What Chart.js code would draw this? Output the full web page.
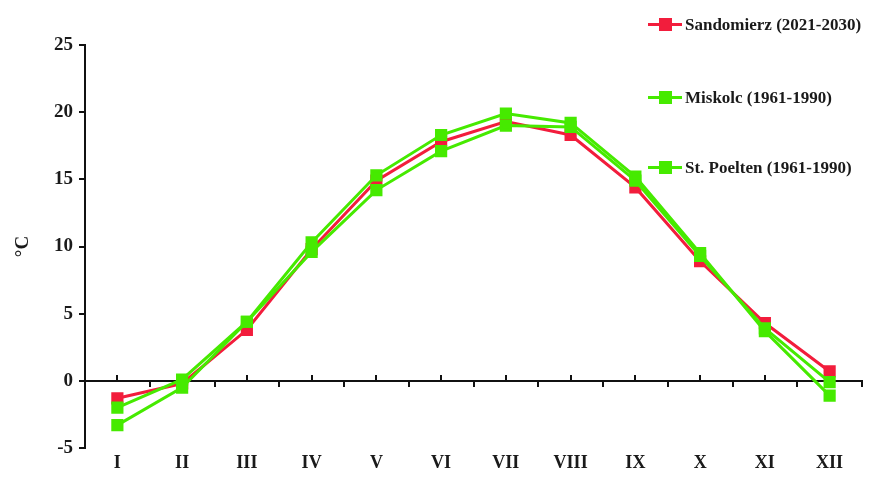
<!DOCTYPE html>
<html>
<head>
<meta charset="utf-8">
<script src="https://cdn.jsdelivr.net/npm/chart.js@4.4.0/dist/chart.umd.min.js"></script>
<style>
	html, body { margin: 0; padding: 0; background: #fff; }
	#wrap { position: relative; width: 874px; height: 486px; }
	#legend { position: absolute; left: 648px; top: 14px; font-family: "Liberation Serif", serif; font-weight: bold; font-size: 17px; color: #1a1a1a; }
	.item { position: absolute; left: 0; white-space: nowrap; height: 22px; line-height: 22px; }
	.sw { position: absolute; left: 0; top: 9px; width: 34px; height: 3px; }
	.sq { position: absolute; left: 11px; top: 4px; width: 13px; height: 13px; }
	.lbl { position: absolute; left: 37px; top: 0; }
</style>
</head>
<body>
<div id="wrap">
	<canvas id="chart" width="874" height="486"></canvas>
	<div id="legend"></div>
</div>
<script>
// months
const months = ['I', 'II', 'III', 'IV', 'V', 'VI', 'VII', 'VIII', 'IX', 'X', 'XI', 'XII'];

// mean monthly temperature, degC
const sandomierz = [-1.3, -0.2, 3.8, 9.8, 14.9, 17.8, 19.3, 18.3, 14.4, 8.9, 4.3, 0.7];
const miskolc = [-3.3, -0.5, 4.4, 10.3, 15.3, 18.3, 19.9, 19.2, 15.2, 9.5, 3.7, -1.1];
const stPoelten = [-2.0, 0.1, 4.4, 9.6, 14.2, 17.1, 19.0, 18.9, 14.9, 9.3, 3.9, -0.1];

const seriesNames = ['Sandomierz (2021-2030)', 'Miskolc (1961-1990)', 'St. Poelten (1961-1990)'];
const yTicks = [-5, 0, 5, 10, 15, 20, 25];

const red = '#f21d3c';
const green = '#46ea00';
const serif = '"Liberation Serif", "Times New Roman", serif';

function line(label, data, color) {
	return {
		label: label,
		data: data,
		borderColor: color,
		backgroundColor: color,
		borderWidth: 3,
		pointStyle: 'rect',
		pointRadius: 6.5,
		pointHoverRadius: 6.5,
		tension: 0
	};
}

const ctx = document.getElementById('chart').getContext('2d');

const chart = new Chart(ctx, {
	type: 'line',
	data: {
		labels: months,
		datasets: [
			line(seriesNames[1], miskolc, green),
			line(seriesNames[2], stPoelten, green),
			line(seriesNames[0], sandomierz, red)
		]
	},
	options: {
		responsive: false,
		animation: false,
		layout: { padding: { top: 45, right: 12, bottom: 0, left: 0 } },
		plugins: { legend: { display: false }, tooltip: { enabled: false } },
		scales: {
			x: {
				offset: true,
				border: { display: false },
				grid: { display: false, drawTicks: false },
				ticks: { color: '#1a1a1a', font: { family: serif, size: 18, weight: 'bold' }, padding: 5 },
				afterFit: (scale) => { scale.height = 38; }
			},
			// zero line, small ticks below at the month boundaries
			x2: {
				type: 'category',
				labels: months,
				position: { y: 0 },
				offset: true,
				border: { display: true, color: '#111', width: 2 },
				grid: { offset: true, drawOnChartArea: false, drawTicks: true, tickLength: 5, color: '#111', lineWidth: 2 },
				ticks: { display: false }
			},
			// small ticks above the zero line at the month centres
			x3: {
				type: 'category',
				labels: months,
				position: { y: 0.4 },
				offset: true,
				border: { display: false },
				grid: { offset: false, drawOnChartArea: false, drawTicks: true, tickLength: 5, color: '#111', lineWidth: 2 },
				ticks: { display: false }
			},
			y: {
				min: -5,
				max: 25,
				afterBuildTicks: (scale) => { scale.ticks = yTicks.map(v => ({ value: v })); },
				border: { display: true, color: '#111', width: 2 },
				grid: { drawOnChartArea: false, drawTicks: true, tickLength: 6, color: '#111', lineWidth: 2 },
				ticks: { color: '#1a1a1a', font: { family: serif, size: 19, weight: 'bold' }, padding: 6 },
				title: { display: true, text: '°C', color: '#1a1a1a', font: { family: serif, size: 19, weight: 'bold' }, padding: { top: 12, bottom: 0 } },
				afterFit: (scale) => { scale.width = 85; }
			}
		}
	}
});

// legend: line with square marker, as in the original figure
const legendColors = [red, green, green];
const legendTops = [0, 73, 143];
const legend = document.getElementById('legend');
seriesNames.forEach((name, i) => {
	const item = document.createElement('div');
	item.className = 'item';
	item.style.top = legendTops[i] + 'px';
	item.innerHTML = '<span class="sw" style="background:' + legendColors[i] + '"></span>' +
		'<span class="sq" style="background:' + legendColors[i] + '"></span>' +
		'<span class="lbl">' + name + '</span>';
	legend.appendChild(item);
});
</script>
</body>
</html>
